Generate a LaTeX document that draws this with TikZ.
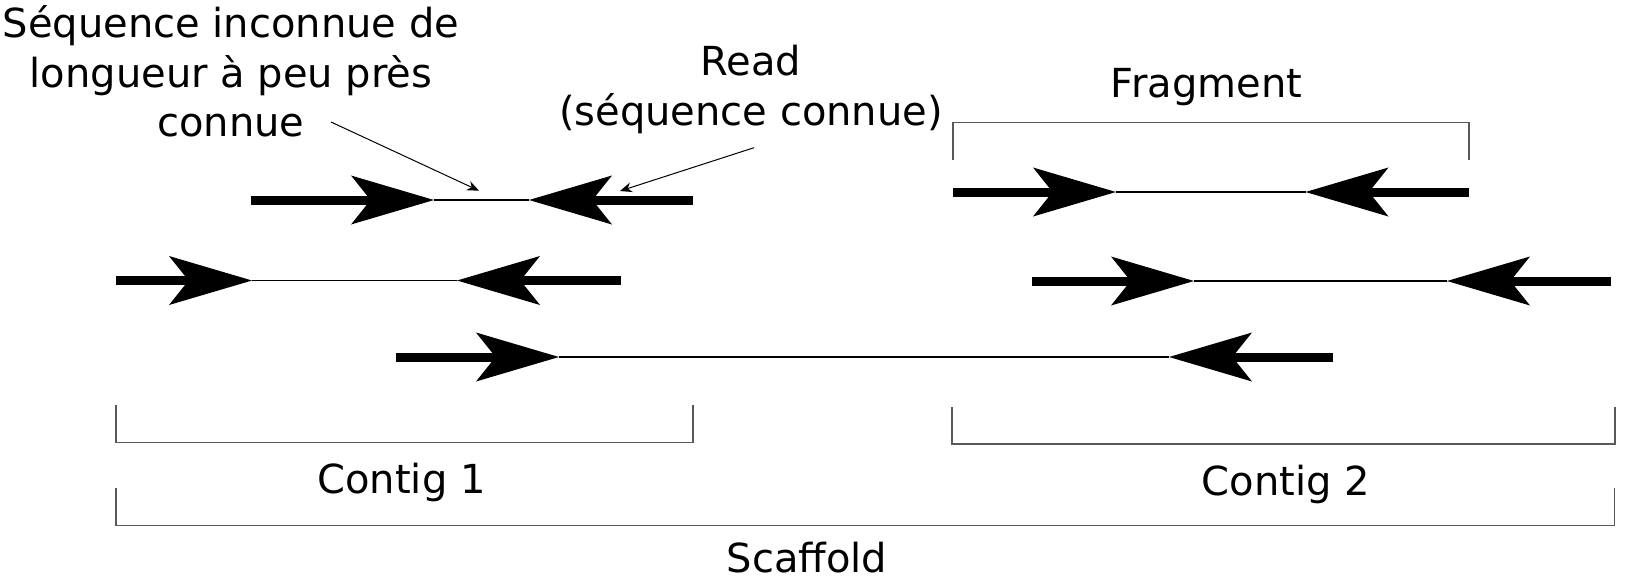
\documentclass[tikz,border=0pt]{standalone}
\usepackage{fontspec}
\setmainfont{DejaVu Sans}
\usetikzlibrary{arrows.meta}

\begin{document}
\begin{tikzpicture}[x=0.5pt, y=-0.5pt, text=black,
  txt/.style={font=\fontsize{20}{24.75}\selectfont, inner sep=0pt,
    anchor=base, align=center},
  readarrow/.style={line width=4.5pt,
    -{Stealth[length=41.5pt, width=24.5pt, inset=9.8pt, line width=0pt]}},
  gapline/.style={line width=0.75pt},
  pointer/.style={line width=0.5pt,
    -{Stealth[length=6pt, width=5pt, inset=2pt, line width=0pt]}},
  bracketline/.style={line width=0.6pt, draw=black!65}]
\useasboundingbox (0,0) rectangle (1628,579);

% labels (base = last line)
\node (seq) [txt] at (231,136.5) {Séquence inconnue de\\longueur à peu près\\connue};
\node (readtxt) [txt] at (751,125) {Read\\(séquence connue)};
\node (fragtxt) [txt] at (1206.5,97.7) {Fragment};
\node (contig1) [txt] at (401.5,493.3) {Contig 1};
\node (contig2) [txt] at (1286,495) {Contig 2};
\node (scaffold) [txt] at (807,572.7) {Scaffold};

% reads of contig 1
\coordinate (a1) at (251,200);  \coordinate (a2) at (434,200);
\coordinate (a3) at (529,200);  \coordinate (a4) at (693,200);
\draw[readarrow] (a1) -- (a2);
\draw[gapline] (a2) -- (a3);
\draw[readarrow] (a4) -- (a3);

\coordinate (b1) at (116,280.5); \coordinate (b2) at (252,280.5);
\coordinate (b3) at (457,280.5); \coordinate (b4) at (621,280.5);
\draw[readarrow] (b1) -- (b2);
\draw[gapline] (b2) -- (b3);
\draw[readarrow] (b4) -- (b3);

% read pair across both contigs
\coordinate (c1) at (396,357); \coordinate (c2) at (559,357);
\coordinate (c3) at (1169,357); \coordinate (c4) at (1333,357);
\draw[readarrow] (c1) -- (c2);
\draw[gapline] (c2) -- (c3);
\draw[readarrow] (c4) -- (c3);

% reads of contig 2
\coordinate (f1) at (953,192);  \coordinate (f2) at (1116,192);
\coordinate (f3) at (1305.5,192); \coordinate (f4) at (1469,192);
\draw[readarrow] (f1) -- (f2);
\draw[gapline] (f2) -- (f3);
\draw[readarrow] (f4) -- (f3);

\coordinate (d1) at (1032,281); \coordinate (d2) at (1194,281);
\coordinate (d3) at (1447,281); \coordinate (d4) at (1611,281);
\draw[readarrow] (d1) -- (d2);
\draw[gapline] (d2) -- (d3);
\draw[readarrow] (d4) -- (d3);

% pointers
\coordinate (p1) at (331,122);  \coordinate (p1end) at (479,190.7);
\coordinate (p2) at (754,147.7); \coordinate (p2end) at (620,191);
\draw[pointer] (p1) -- (p1end);
\draw[pointer] (p2) -- (p2end);

% brackets
\draw[bracketline] (953,160) |- (1469,122.3) -- (1469,160);
\draw[bracketline] (116,405) |- (693,442.7) -- (693,405);
\draw[bracketline] (952,407) |- (1615,444) -- (1615,407);
\draw[bracketline] (116,488) |- (1614.6,525.7) -- (1614.6,488);

\end{tikzpicture}
\end{document}
